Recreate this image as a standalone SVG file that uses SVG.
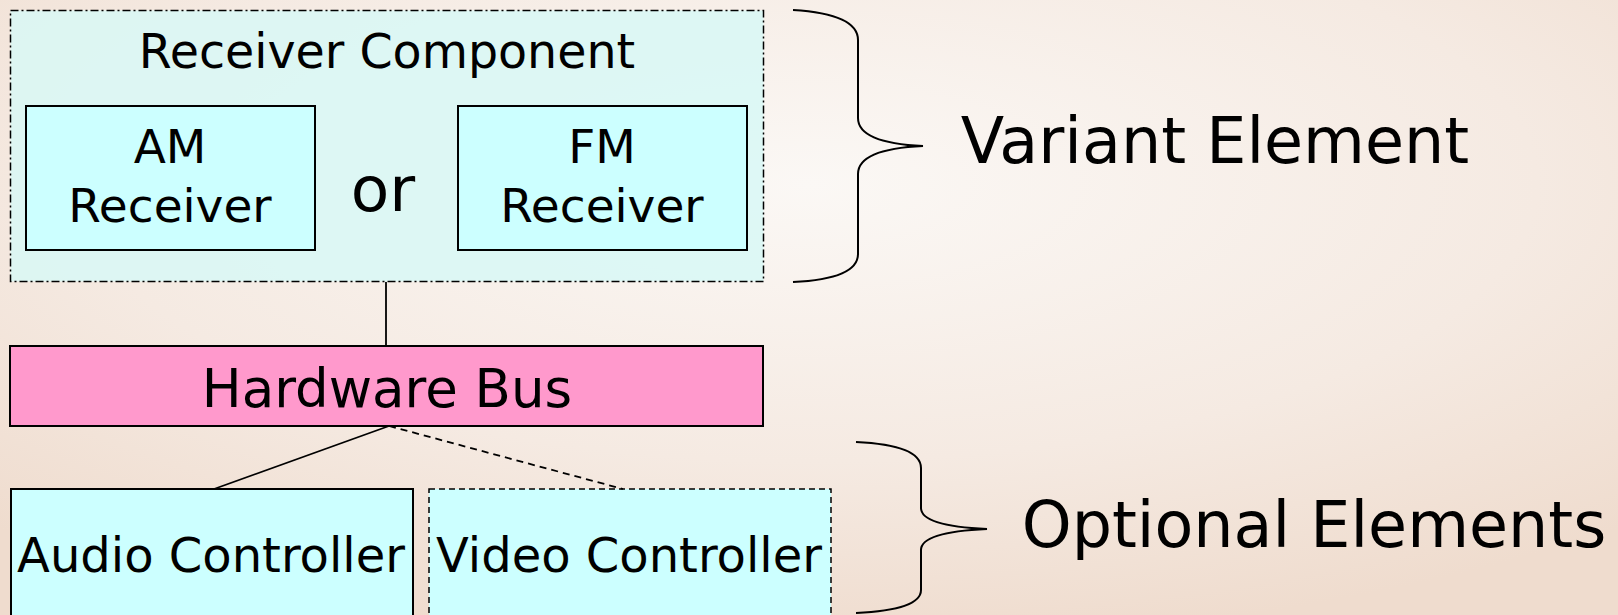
<svg xmlns="http://www.w3.org/2000/svg" width="1618" height="615" viewBox="0 0 1618 615">
<defs>
<radialGradient id="bg" cx="0.5" cy="0.3" r="0.75">
<stop offset="0" stop-color="#FBF8F5"/>
<stop offset="0.6" stop-color="#F5EAE2"/>
<stop offset="1" stop-color="#EFDCCE"/>
</radialGradient>
</defs>
<style>
text{font-family:"DejaVu Sans","Liberation Sans",sans-serif;fill:#000;text-anchor:middle}
.box{fill:#CCFFFF;stroke:#000;stroke-width:2}
.dash{fill:#CCFFFF;stroke:#000;stroke-width:1.5;stroke-dasharray:6 4}
.line{stroke:#000;stroke-width:1.8;fill:none}
.brace{stroke:#000;stroke-width:2;fill:none}
</style>
<rect width="1618" height="615" fill="url(#bg)"/>
<g id="receiver-component">
<rect x="10.5" y="10.5" width="753" height="271" fill="#D8F8F6" fill-opacity="0.85" stroke="#000" stroke-width="1.5" stroke-dasharray="8 3 2 3"/>
<text x="387" y="68" font-size="47.5">Receiver Component</text>
<text x="383" y="211" font-size="63">or</text>
</g>
<g id="am-receiver">
<rect class="box" x="26" y="106" width="289" height="144"/>
<text x="170" y="163" font-size="47">AM</text>
<text x="170" y="222" font-size="47">Receiver</text>
</g>
<g id="fm-receiver">
<rect class="box" x="458" y="106" width="289" height="144"/>
<text x="602" y="163" font-size="47">FM</text>
<text x="602" y="222" font-size="47">Receiver</text>
</g>
<g id="hardware-bus">
<rect x="10" y="346" width="753" height="80" fill="#FF99CC" stroke="#000" stroke-width="2"/>
<text x="387" y="407" font-size="53">Hardware Bus</text>
</g>
<g id="audio-controller">
<rect class="box" x="11" y="489" width="402" height="140"/>
<text x="211" y="572" font-size="48">Audio Controller</text>
</g>
<g id="video-controller">
<rect class="dash" x="429" y="489" width="402" height="140"/>
<text x="629" y="572" font-size="48">Video Controller</text>
</g>
<g id="connectors">
<line class="line" x1="386" y1="282" x2="386" y2="346"/>
<line class="line" x1="389" y1="426" x2="214" y2="489"/>
<line class="line" x1="389" y1="426" x2="623" y2="489" stroke-dasharray="7 5"/>
</g>
<g id="variant-brace">
<path class="brace" d="M793 10 Q858 14 858 40 L858 118 Q858 143 923 146 Q858 149 858 174 L858 254 Q858 279 793 282"/>
<text x="1215" y="163" font-size="63.5">Variant Element</text>
</g>
<g id="optional-brace">
<path class="brace" d="M856 442 Q921 445 921 468 L921 508 Q921 526 987 529 Q921 532 921 550 L921 590 Q921 610 856 613"/>
<text x="1314" y="547" font-size="63.5">Optional Elements</text>
</g>
</svg>
